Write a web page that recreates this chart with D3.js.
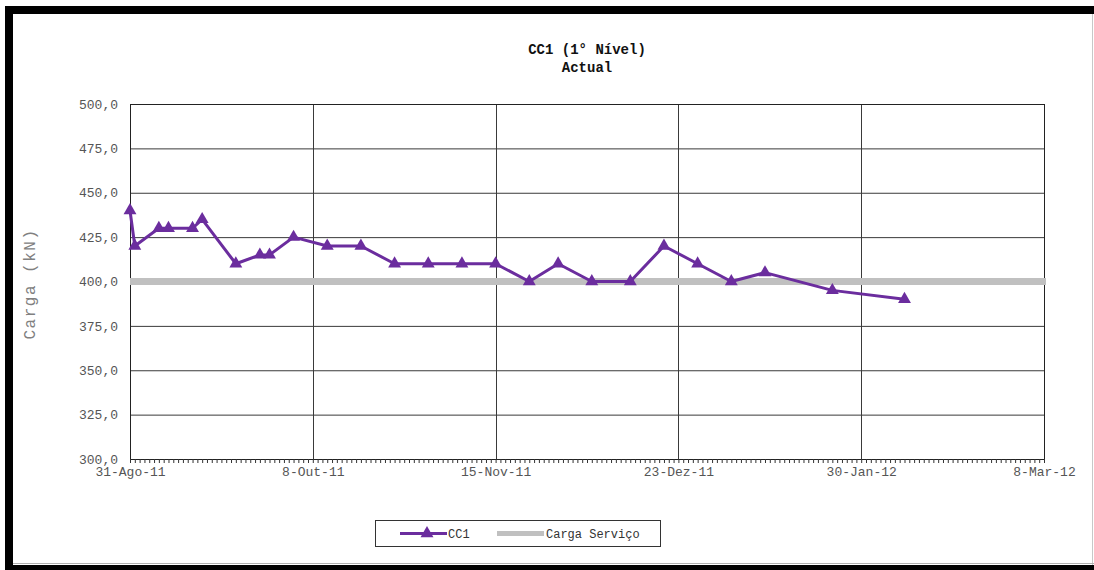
<!DOCTYPE html>
<html>
<head>
<meta charset="utf-8">
<script src="https://cdn.jsdelivr.net/npm/d3@7"></script>
<style>
  body { margin: 0; background: #fff; }
  text { font-family: "Liberation Mono", "Courier New", monospace; }
</style>
</head>
<body>
<div id="chart"></div>
<script>
// leituras da célula CC1
const readDates = ["2011-08-31","2011-09-01","2011-09-06","2011-09-08","2011-09-13","2011-09-15",
  "2011-09-22","2011-09-27","2011-09-29","2011-10-04","2011-10-11","2011-10-18","2011-10-25",
  "2011-11-01","2011-11-08","2011-11-15","2011-11-22","2011-11-28","2011-12-05","2011-12-13",
  "2011-12-20","2011-12-27","2012-01-03","2012-01-10","2012-01-24","2012-02-08"];
const cc1Values = [440,420,430,430,430,435,410,415,415,425,420,420,410,
  410,410,410,400,410,400,400,420,410,400,405,395,390];
const serviceLoad = 400;

const xTickDates = ["2011-08-31","2011-10-08","2011-11-15","2011-12-23","2012-01-30","2012-03-08"];
const xTickLabels = ["31-Ago-11","8-Out-11","15-Nov-11","23-Dez-11","30-Jan-12","8-Mar-12"];
const yTicks = [300,325,350,375,400,425,450,475,500];

class LoadVis {
  constructor(parentElement) {
    this.parentElement = parentElement;
    this.purple = "#6b2d9e";
    this.grey = "#c0c0c0";
    this.initVis();
  }

  initVis() {
    let vis = this;
    vis.W = 1094; vis.H = 570;
    vis.margin = { top: 104, right: 50, bottom: 111, left: 130 };
    vis.width = vis.W - vis.margin.left - vis.margin.right;
    vis.height = vis.H - vis.margin.top - vis.margin.bottom;

    vis.root = d3.select("#" + vis.parentElement).append("svg")
      .attr("width", vis.W).attr("height", vis.H);

    // moldura preta
    vis.root.append("rect").attr("x", 5).attr("y", 6).attr("width", vis.W - 5).attr("height", 8).attr("fill", "#000");
    vis.root.append("rect").attr("x", 5).attr("y", 6).attr("width", 8).attr("height", vis.H - 6).attr("fill", "#000");
    vis.root.append("rect").attr("x", 5).attr("y", 565).attr("width", vis.W - 5).attr("height", 5).attr("fill", "#000");
    vis.root.append("line").attr("x1", 1092.5).attr("x2", 1092.5).attr("y1", 14).attr("y2", 565)
      .attr("stroke", "#c8c8c8");
    vis.root.append("line").attr("x1", 13).attr("x2", 1094).attr("y1", 563.5).attr("y2", 563.5)
      .attr("stroke", "#b0b0b0");

    // titulos
    vis.root.append("text").attr("x", 587).attr("y", 54).attr("text-anchor", "middle")
      .style("font-size", "14px").style("font-weight", "bold").attr("fill", "#111")
      .text("CC1 (1° Nível)");
    vis.root.append("text").attr("x", 587).attr("y", 72).attr("text-anchor", "middle")
      .style("font-size", "14px").style("font-weight", "bold").attr("fill", "#111")
      .text("Actual");

    vis.root.append("text")
      .attr("transform", "translate(35,284) rotate(-90)")
      .attr("text-anchor", "middle")
      .style("font-size", "16px").style("letter-spacing", "1.5px")
      .attr("fill", "#808080")
      .text("Carga (kN)");

    vis.svg = vis.root.append("g")
      .attr("transform", `translate(${vis.margin.left},${vis.margin.top})`);

    vis.parse = d3.utcParse("%Y-%m-%d");
    vis.xScale = d3.scaleUtc()
      .domain([vis.parse(xTickDates[0]), vis.parse(xTickDates[xTickDates.length - 1])])
      .range([0, vis.width]);
    vis.yScale = d3.scaleLinear().domain([300, 500]).range([vis.height, 0]);

    this.wrangleData();
  }

  wrangleData() {
    let vis = this;
    vis.displayData = readDates.map((d, i) => ({ date: vis.parse(d), value: cc1Values[i] }));
    vis.majorTicks = xTickDates.map(d => vis.parse(d));
    vis.updateChart();
  }

  updateChart() {
    let vis = this;

    // grelha horizontal
    vis.svg.append("g").selectAll("line")
      .data(yTicks.slice(1, -1))
      .enter().append("line")
      .attr("x1", 0).attr("x2", vis.width)
      .attr("y1", d => vis.yScale(d) + 0.5).attr("y2", d => vis.yScale(d) + 0.5)
      .attr("stroke", "#3a3a3a");

    // grelha vertical
    vis.svg.append("g").selectAll("line")
      .data(vis.majorTicks.slice(1, -1))
      .enter().append("line")
      .attr("x1", d => Math.round(vis.xScale(d)) + 0.5).attr("x2", d => Math.round(vis.xScale(d)) + 0.5)
      .attr("y1", 0).attr("y2", vis.height)
      .attr("stroke", "#3a3a3a");

    vis.svg.append("rect")
      .attr("x", 0.5).attr("y", 0.5).attr("width", vis.width).attr("height", vis.height)
      .attr("fill", "none").attr("stroke", "#222");

    // eixo y
    vis.yGroup = vis.svg.append("g")
      .call(d3.axisLeft(vis.yScale).tickValues(yTicks).tickSize(0).tickPadding(12)
        .tickFormat(d => d3.format(".1f")(d).replace(".", ",")));
    vis.yGroup.select(".domain").remove();
    vis.yGroup.selectAll("text").style("font-size", "13px").attr("fill", "#555");

    // eixo x: marcas diarias
    vis.days = d3.utcDay.range(vis.majorTicks[0], d3.utcDay.offset(vis.majorTicks[5], 1));
    vis.xMinor = vis.svg.append("g")
      .attr("transform", `translate(0,${vis.height})`)
      .call(d3.axisBottom(vis.xScale).tickValues(vis.days).tickSize(4).tickFormat(""));
    vis.xMinor.select(".domain").attr("stroke", "#222");
    vis.xMinor.selectAll(".tick line").attr("stroke", "#333");

    vis.xGroup = vis.svg.append("g")
      .attr("transform", `translate(0,${vis.height})`)
      .call(d3.axisBottom(vis.xScale).tickValues(vis.majorTicks).tickSize(0).tickPadding(8)
        .tickFormat((d, i) => xTickLabels[i]));
    vis.xGroup.select(".domain").remove();
    vis.xGroup.selectAll("text").style("font-size", "13px").attr("fill", "#555");

    // carga de servico
    vis.svg.append("line")
      .attr("x1", 0).attr("x2", vis.width + 2)
      .attr("y1", vis.yScale(serviceLoad)).attr("y2", vis.yScale(serviceLoad))
      .attr("stroke", vis.grey).attr("stroke-width", 7);

    // serie CC1
    vis.line = d3.line().x(d => vis.xScale(d.date)).y(d => vis.yScale(d.value));
    vis.svg.append("path")
      .datum(vis.displayData)
      .attr("d", vis.line)
      .attr("fill", "none").attr("stroke", vis.purple).attr("stroke-width", 3)
      .attr("stroke-linejoin", "round");

    vis.tri = d3.symbol().type(d3.symbolTriangle).size(72);
    vis.svg.selectAll(".pt")
      .data(vis.displayData)
      .enter().append("path")
      .attr("class", "pt")
      .attr("d", vis.tri)
      .attr("transform", d => `translate(${vis.xScale(d.date)},${vis.yScale(d.value)})`)
      .attr("fill", vis.purple);

    // legenda
    let lg = vis.root.append("g").attr("transform", "translate(375,520)");
    lg.append("rect").attr("x", 0.5).attr("y", 0.5).attr("width", 285).attr("height", 26)
      .attr("fill", "#fff").attr("stroke", "#333");
    lg.append("line").attr("x1", 25).attr("x2", 72).attr("y1", 13.5).attr("y2", 13.5)
      .attr("stroke", vis.purple).attr("stroke-width", 3);
    lg.append("path").attr("d", vis.tri).attr("transform", "translate(52,13.5)").attr("fill", vis.purple);
    lg.append("text").attr("x", 73).attr("y", 17.5).style("font-size", "12px").attr("fill", "#333").text("CC1");
    lg.append("line").attr("x1", 122).attr("x2", 169).attr("y1", 13.5).attr("y2", 13.5)
      .attr("stroke", vis.grey).attr("stroke-width", 5);
    lg.append("text").attr("x", 171).attr("y", 17.5).style("font-size", "12px").attr("fill", "#333").text("Carga Serviço");
  }
}

new LoadVis("chart");
</script>
</body>
</html>
